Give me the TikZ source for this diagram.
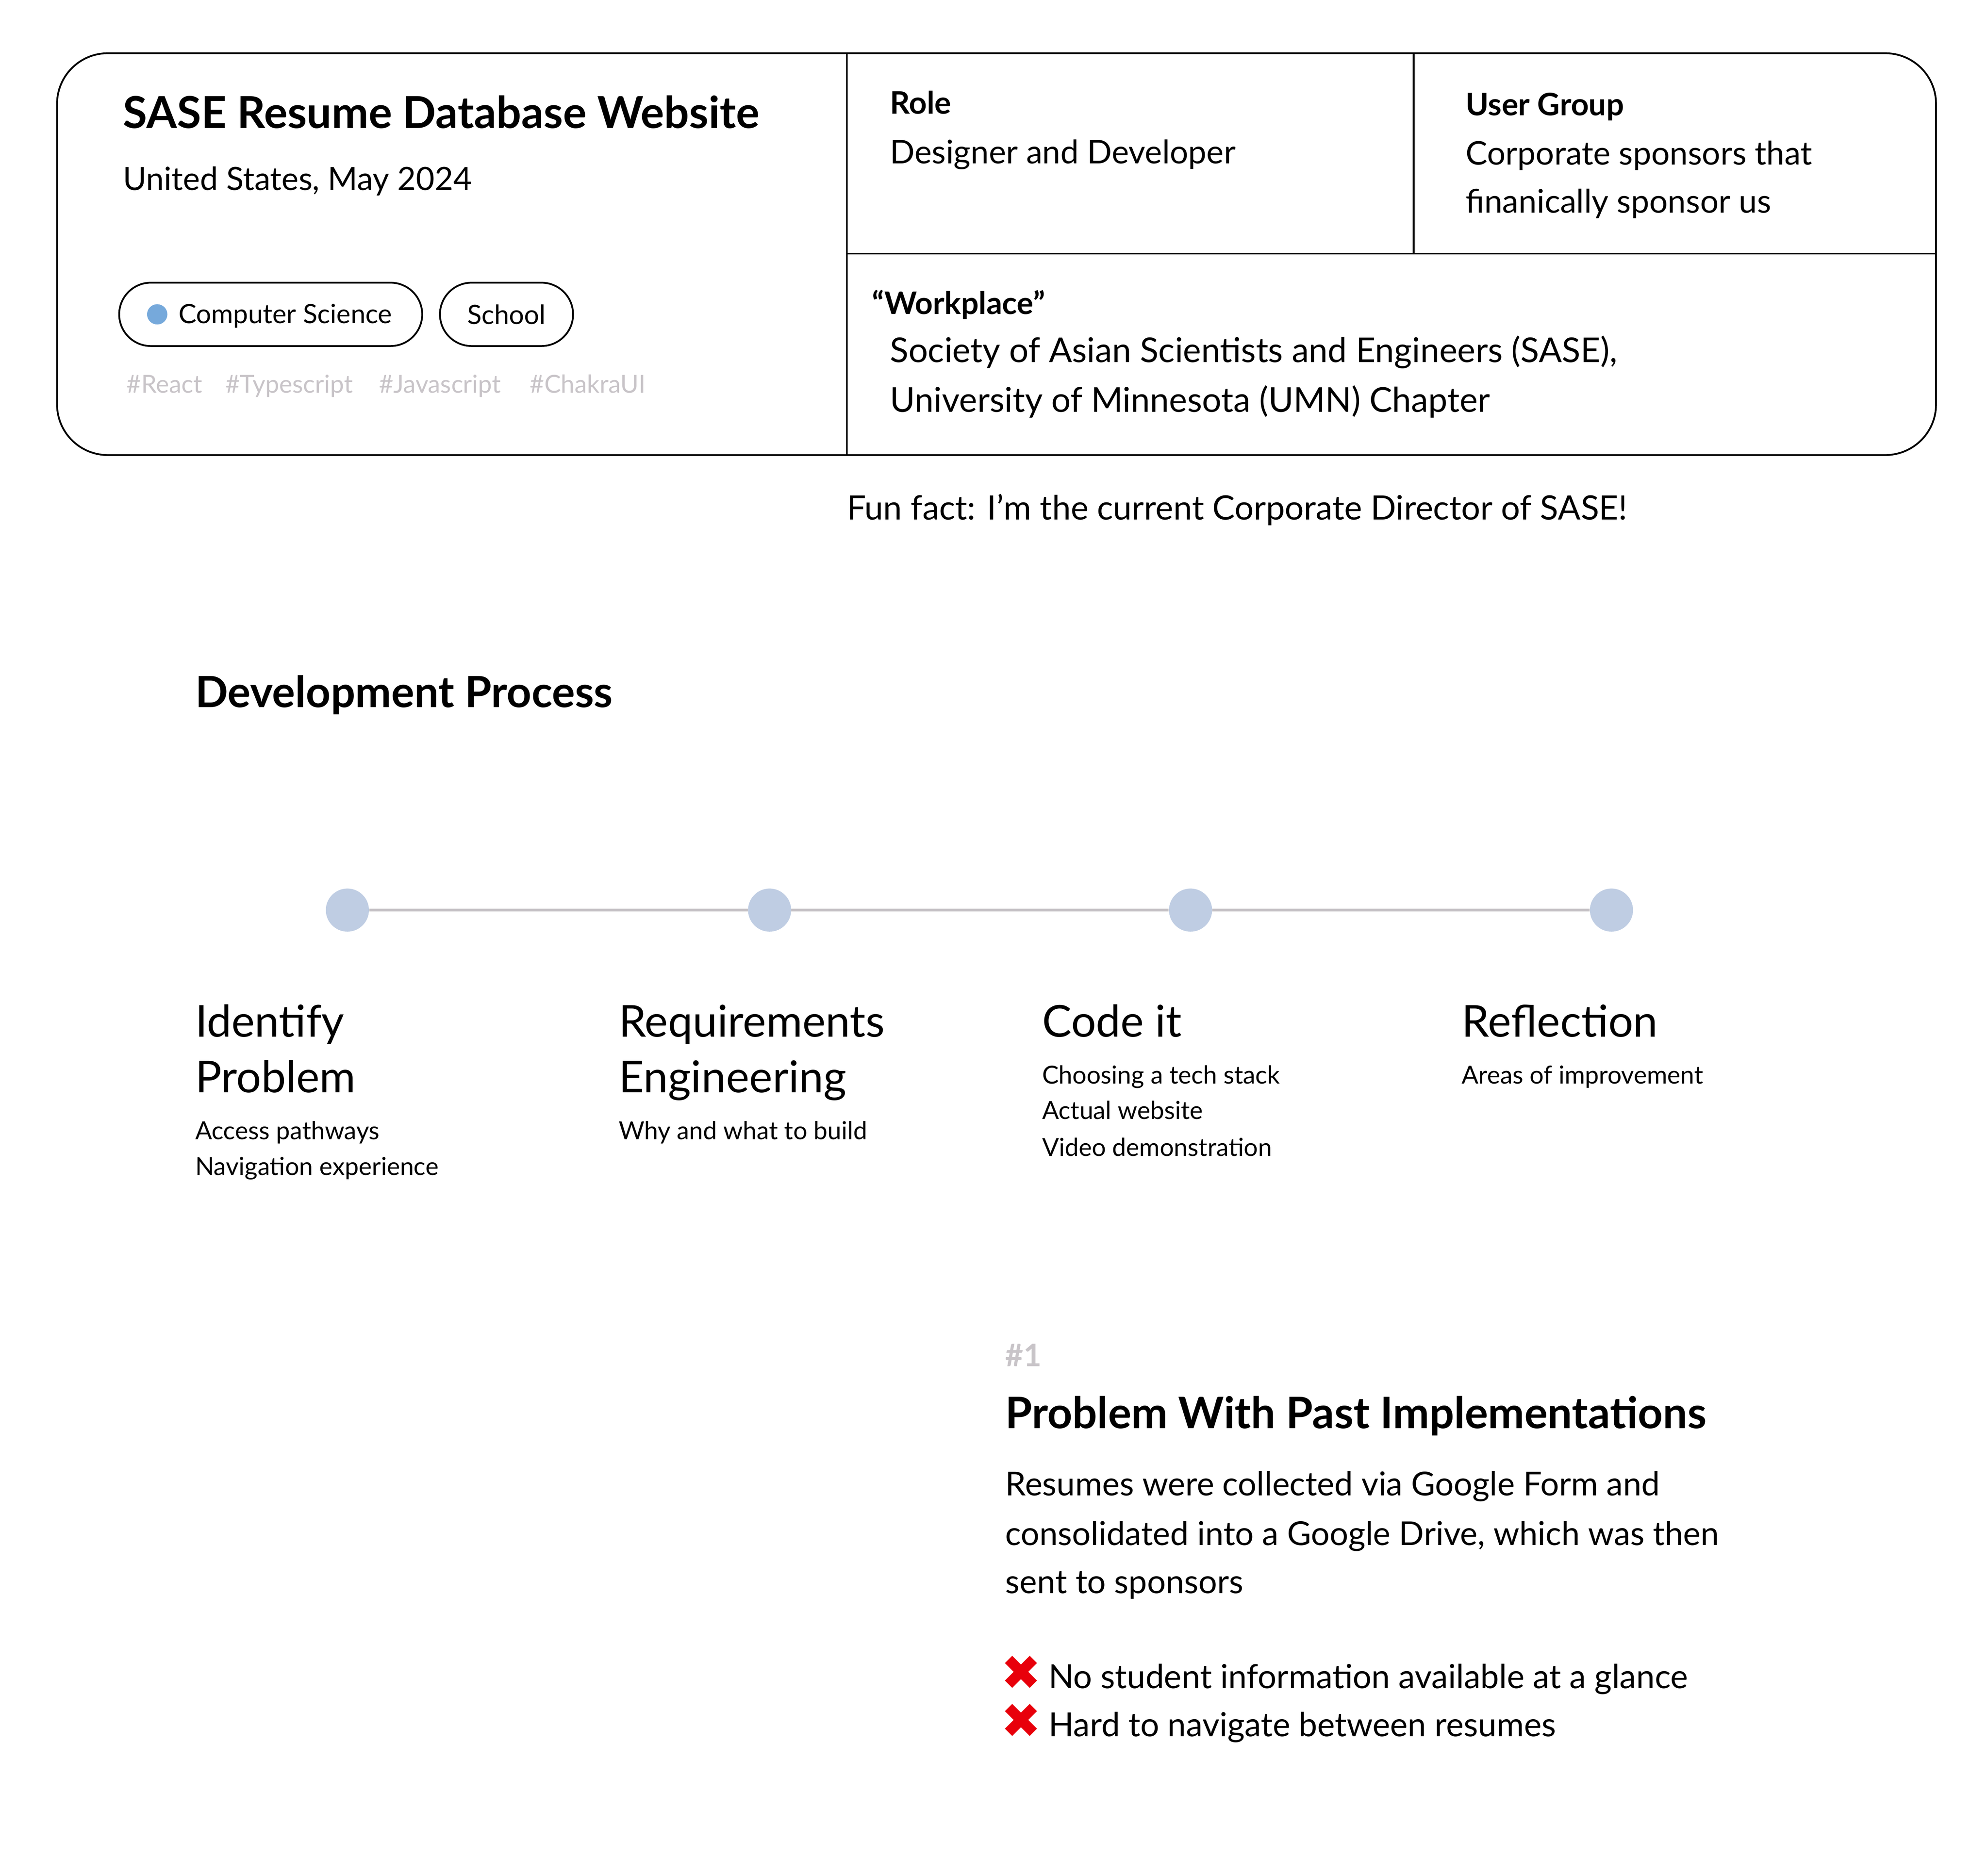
\documentclass[tikz,border=0pt]{standalone}
\usepackage{fontspec}
\setmainfont{Lato}
\newfontfamily\symfont{DejaVu Sans}
\usetikzlibrary{positioning}
\definecolor{dotblue}{HTML}{76A9DB}
\definecolor{stepfill}{HTML}{BFCDE3}
\definecolor{linegray}{HTML}{C2BEC2}
\definecolor{taggray}{HTML}{C8C4C8}
\definecolor{crossred}{HTML}{E8000B}
\tikzstyle{txt}=[anchor=base west,inner sep=0pt,outer sep=0pt]
\tikzstyle{bigtitle}=[txt,font=\fontsize{34}{40}\selectfont\bfseries]
\tikzstyle{head}=[txt,font=\fontsize{24.5}{29}\selectfont\bfseries]
\tikzstyle{body}=[txt,font=\fontsize{25.7}{30}\selectfont]
\tikzstyle{steptitle}=[txt,font=\fontsize{34.7}{40}\selectfont]
\tikzstyle{small}=[txt,font=\fontsize{19.6}{23}\selectfont]
\tikzstyle{tag}=[txt,font=\fontsize{19.6}{23}\selectfont,text=taggray]
\tikzstyle{pill}=[draw,line width=1.4pt,rounded corners=25pt,minimum height=50pt,inner sep=0pt]
\tikzstyle{stepdot}=[circle,fill=stepfill,minimum size=34pt,inner sep=0pt]
\tikzstyle{frame}=[draw,line width=1.4pt]
\tikzstyle{timeline}=[draw,linegray,line width=2pt]

\begin{document}
\begin{tikzpicture}[x=1pt,y=-1pt]
\useasboundingbox (0,0) rectangle (1568,1479);

    % Header card
    \draw[frame,rounded corners=40pt] (45,42) rectangle (1527,359);
    \coordinate (c1) at (668,42);
    \coordinate (c2) at (668,359);
    \coordinate (c3) at (668,200);
    \coordinate (c4) at (1527,200);
    \coordinate (c5) at (1115,42);
    \coordinate (c6) at (1115,200);
    \draw[frame] (c1) -- (c2);
    \draw[frame] (c3) -- (c4);
    \draw[frame] (c5) -- (c6);

    \node[bigtitle,font=\fontsize{34.7}{40}\selectfont\bfseries] (title) at (97,101) {SASE Resume Database Website};
    \node[body,font=\fontsize{25.3}{30}\selectfont] (place) at (97,150) {United States, May 2024};

    % Pills
    \node[pill,minimum width=239pt] (pillcs) at (213.5,248) {};
    \node[circle,fill=dotblue,minimum size=16pt,inner sep=0pt] (csdot) at (124,248) {};
    \node[txt,font=\fontsize{21}{25}\selectfont] (cs) at (141,255) {Computer Science};
    \node[pill,minimum width=105pt,font=\fontsize{21}{25}\selectfont] (school) at (399.5,248) {School};

    \foreach \pos/\name/\label in {{(100,310)/t1/\#React}, {(178,310)/t2/\#Typescript}, {(299,310)/t3/\#Javascript}, {(418,310)/t4/\#ChakraUI}}
        \node[tag] (\name) at \pos {\label};

    % Cells
    \node[head] (role) at (702,90) {Role};
    \node[body] (roletext) at (702,129) {Designer and Developer};
    \node[head] (users) at (1156,91) {User Group};
    \node[body] (users1) at (1156,130) {Corporate sponsors that};
    \node[body] (users2) at (1156,168) {finanically sponsor us};
    \node[head] (work) at (688,248) {“Workplace”};
    \node[body,font=\fontsize{27}{31}\selectfont] (work1) at (702,286) {Society of Asian Scientists and Engineers (SASE),};
    \node[body,font=\fontsize{27}{31}\selectfont] (work2) at (702,325) {University of Minnesota (UMN) Chapter};

    \node[body,font=\fontsize{26.5}{31}\selectfont] (fun) at (668,410) {Fun fact: I’m the current Corporate Director of SASE!};

    % Development process
    \node[bigtitle] (dev) at (154,558) {Development Process};

    \foreach \pos/\name in {{(274,718)/d1}, {(607,718)/d2}, {(939,718)/d3}, {(1271,718)/d4}}
        \node[stepdot] (\name) at \pos {};
    \foreach \source/\dest in {d1/d2, d2/d3, d3/d4}
        \path[timeline] (\source) -- (\dest);

    \foreach \pos/\name/\label in {{(154,818)/s1a/Identify}, {(154,862)/s1b/Problem}, {(488,818)/s2a/Requirements}, {(488,862)/s2b/Engineering}, {(822,818)/s3a/Code it}, {(1153,818)/s4a/Reflection}}
        \node[steptitle] (\name) at \pos {\label};

    \foreach \pos/\name/\label in {{(154,899)/n1a/Access pathways}, {(154,927)/n1b/Navigation experience}, {(488,899)/n2a/Why and what to build}, {(822,855)/n3a/Choosing a tech stack}, {(822,883)/n3b/Actual website}, {(822,912)/n3c/Video demonstration}, {(1153,855)/n4a/Areas of improvement}}
        \node[small] (\name) at \pos {\label};

    % Problem section
    \node[head,text=taggray] (num) at (793,1078) {\#1};
    \node[bigtitle,font=\fontsize{34.3}{40}\selectfont\bfseries] (prob) at (793,1127) {Problem With Past Implementations};
    \node[body,font=\fontsize{26}{30}\selectfont] (p1) at (793,1180) {Resumes were collected via Google Form and};
    \node[body,font=\fontsize{26}{30}\selectfont] (p2) at (793,1219) {consolidated into a Google Drive, which was then};
    \node[body,font=\fontsize{26}{30}\selectfont] (p3) at (793,1257) {sent to sponsors};

    \foreach \y/\name/\label in {1332/x1/No student information available at a glance, 1370/x2/Hard to navigate between resumes}{
        \node[txt,text=crossred,font=\fontsize{38}{40}\selectfont\symfont] (\name m) at (789.5,\y+1) {✖};
        \node[body,font=\fontsize{26.2}{30}\selectfont] (\name) at (827,\y) {\label};
    }

\end{tikzpicture}
\end{document}
